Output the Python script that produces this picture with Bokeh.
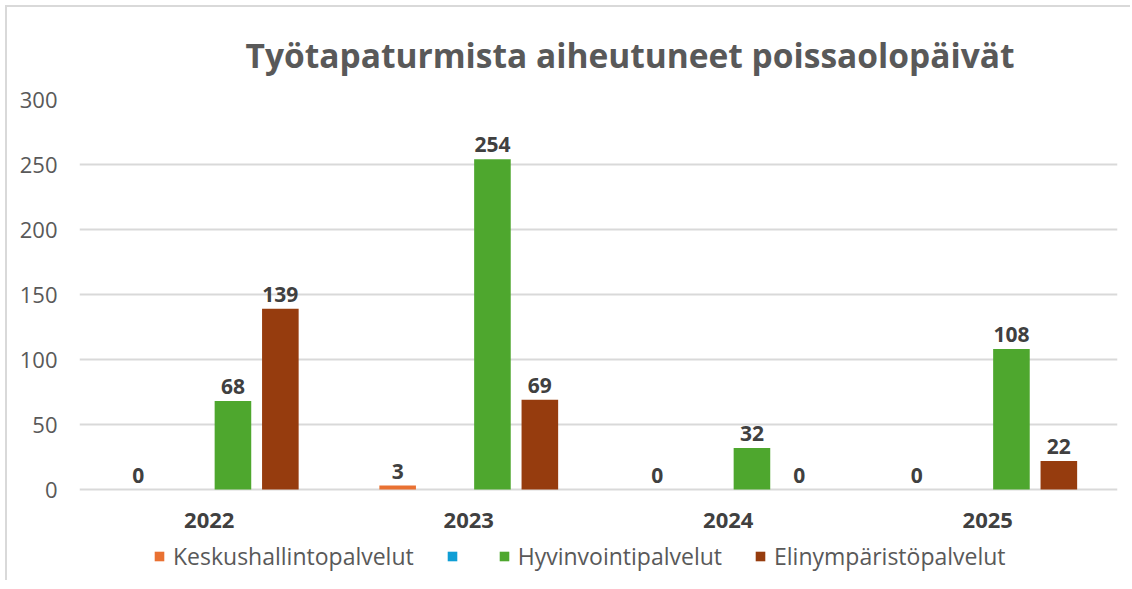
from bokeh.plotting import figure
from bokeh.models import (ColumnDataSource, FactorRange, Range1d, Legend, LegendItem,
                          FixedTicker, Title)
from bokeh.transform import dodge
from bokeh.embed import file_html
from bokeh.resources import INLINE
from bokeh.core.properties import value

years = ["2022", "2023", "2024", "2025"]
series_names = ["Keskushallintopalvelut", " ", "Hyvinvointipalvelut", "Elinympäristöpalvelut"]
keskushallinto = [0, 3, 0, 0]
tyhja = [None, None, None, None]
hyvinvointi = [68, 254, 32, 108]
elinymparisto = [139, 69, 0, 22]
y_ticks = [0, 50, 100, 150, 200, 250, 300]
colors = ["#E97132", "#0F9ED5", "#4EA72E", "#963C0E"]

FONT = "Open Sans"

# y range extends below 0 so the year labels and legend sit inside the plot frame
p = figure(x_range=FactorRange(*years), y_range=Range1d(-70, 300),
           frame_width=1038, frame_height=481, output_backend="svg", toolbar_location=None,
           min_border_left=72, min_border_right=13, min_border_top=92, min_border_bottom=0,
           outline_line_color=None, background_fill_color="white", border_fill_color="white")
p.margin = (5, 0, 0, 5)
p.styles = {"border-top": "2px solid #D9D9D9", "border-left": "2px solid #D9D9D9"}

p.title = Title(text="Työtapaturmista aiheutuneet poissaolopäivät", align="left", offset=166,
                standoff=44, text_font=FONT, text_font_size="33.5px", text_font_style="bold",
                text_color="#595959")

all_series = [keskushallinto, tyhja, hyvinvointi, elinymparisto]
offsets = [-0.274, -0.0913, 0.0913, 0.274]
items = []
for name, vals, col, off in zip(series_names, all_series, colors, offsets):
    lab = ["" if v is None else str(v) for v in vals]
    src = ColumnDataSource(dict(year=years, v=[0 if v is None else v for v in vals], lab=lab))
    r = p.vbar(x=dodge("year", off, range=p.x_range), top="v", width=0.141, source=src,
               fill_color=col, line_color=None)
    p.text(x=dodge("year", off, range=p.x_range), y="v", text="lab", source=src,
           text_align="center", text_baseline="bottom", y_offset=-7,
           text_font=value(FONT), text_font_size="21px", text_font_style="bold",
           text_color="#404040")
    items.append(LegendItem(label=name, renderers=[r]))

# category labels under the zero line
ysrc = ColumnDataSource(dict(year=years, base=[0] * len(years)))
p.text(x="year", y="base", text="year", source=ysrc, text_align="center",
       text_baseline="middle", y_offset=31, text_font=value(FONT), text_font_size="22px",
       text_font_style="bold", text_color="#404040")

legend = Legend(items=items, orientation="horizontal", location=(74, 8),
                label_text_font=FONT, label_text_font_size="23px", label_text_color="#595959",
                glyph_width=12, glyph_height=12, label_standoff=8, spacing=32, label_width=0,
                border_line_color=None, background_fill_alpha=0, padding=0, margin=0)
p.add_layout(legend)

p.yaxis.ticker = FixedTicker(ticks=y_ticks)
p.yaxis.axis_line_color = None
p.yaxis.major_tick_line_color = None
p.yaxis.major_tick_out = 0
p.yaxis.major_tick_in = 0
p.yaxis.minor_tick_line_color = None
p.yaxis.major_label_standoff = 22
p.yaxis.major_label_text_font = FONT
p.yaxis.major_label_text_font_size = "22px"
p.yaxis.major_label_text_color = "#595959"

p.xaxis.visible = False

p.xgrid.grid_line_color = None
p.ygrid.grid_line_color = "#D9D9D9"
p.ygrid.grid_line_width = 2

open("out.html", "w").write(file_html(p, INLINE))
